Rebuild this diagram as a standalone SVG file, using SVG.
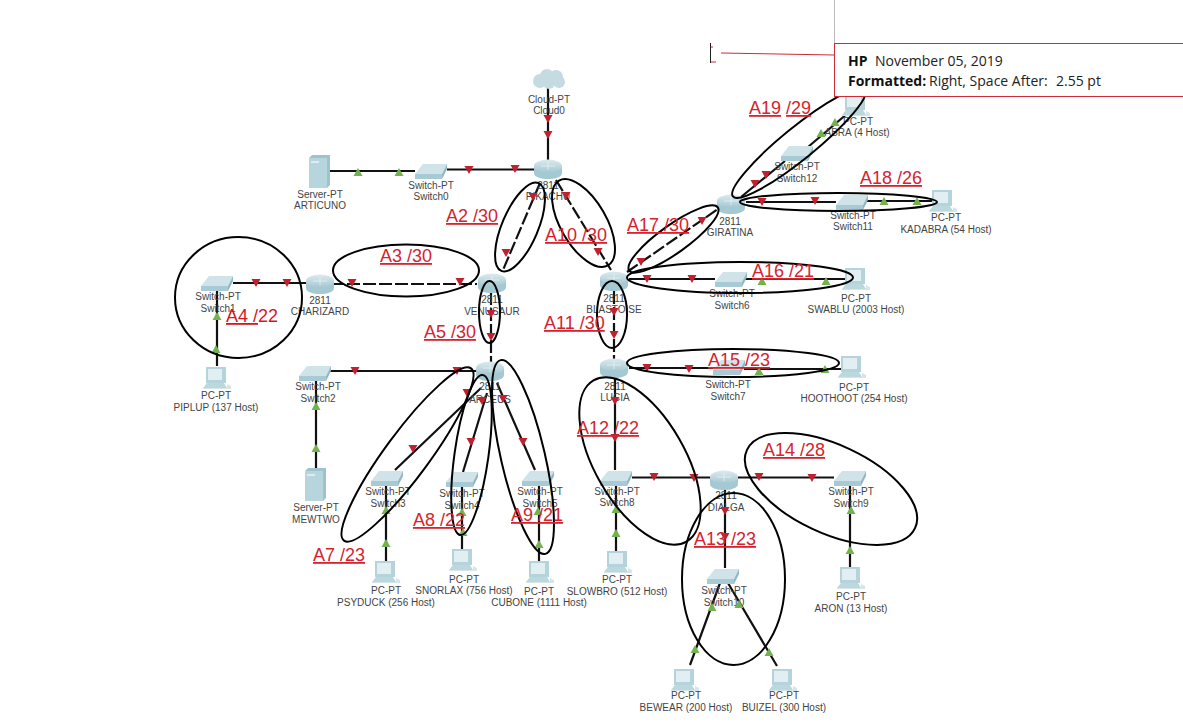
<svg xmlns="http://www.w3.org/2000/svg" width="1183" height="722" viewBox="0 0 1183 722">
<style>
.n{font:10px "Liberation Sans",Arial,sans-serif;fill:#444;text-anchor:middle}
.l{fill:none;stroke:#111;stroke-width:2.2}
.d{stroke-dasharray:13 3}
.e{fill:none;stroke:#000;stroke-width:2}
.a{font:18px "Liberation Sans",Arial,sans-serif;fill:#d5232f;text-decoration:underline}
.c{font:14px "Open Sans","Noto Sans",sans-serif;fill:#222}
.b{font-weight:700;fill:#111}
</style>
<defs>
<linearGradient id="g" x1="0" y1="0" x2="0" y2="1"><stop offset="0" stop-color="#dcebee"/><stop offset="1" stop-color="#a5c8d2"/></linearGradient>
<g id="router"><path d="M-14-3V4C-14 8-7 10 0 10S14 8 14 4V-3Z" fill="#a5c9d3"/><ellipse cy="-3" rx="14" ry="6.500" fill="url(#g)"/><path d="M-7-3H7M0-7V1" stroke="#eef5f7" stroke-width=".7"/></g>
<g id="switch"><path d="M-16 3H11L16-7H-8Z" fill="#cfe3e8"/><path d="M-16 3H11V8H-16Z" fill="#a7cad4"/><path d="M11 3L16-7V-2L11 8Z" fill="#8db8c4"/></g>
<g id="pc"><rect x="-10" y="-11" width="20" height="16" fill="#b5d3db"/><rect x="-8" y="-9" width="14" height="11" fill="#e2eff2"/><path d="M-9 5H8L11 10H-13Z" fill="#bcd8df"/><path d="M11 6L15 8V11H-13V10H11Z" fill="#d5e6ea"/></g>
<g id="server"><path d="M-11-14L-8-17H10V13L7 16H-11Z" fill="#9dc3ce"/><path d="M-11-14H7V16H-11Z" fill="#b7d5dd"/><rect x="-9" y="-11" width="8" height="2" fill="#dcecf0"/></g>
<g id="cloud" fill="#c3dbe1"><circle cx="-9" cy="2" r="7"/><circle cx="-2" cy="-3" r="7"/><circle cx="7" cy="-2" r="7"/><circle cx="10" cy="3" r="6"/><circle cy="4" r="6"/></g>
<path id="r" d="M-4.500-4H4.500L0 4Z" fill="#c1212f"/>
<path id="p" d="M-4.500 4H4.500L0-4Z" fill="#72b350"/>
</defs>
<g id="connectors">
<path class="l" d="M548 88V160M330 171H415M447 169.500H534M233 283H306M217 290V366M330 371H478M316 468V380M395 470L481 388M463 472L487 393M535 470L497 383M386 486V562M462 486V550M539 486V561M616 486V552M632 477.500H710M738 477.500H834M850 486V568M725 490V568M720 583L690 665M728 583L777 666M629 279H715M745 279H846M629 368H713M744 369H842M746 202H836M867 201H932M741 197L785 161M808 147L848 113"/>
<path class="l d" d="M331 284H477M540 183L503 270M556 180L611 270M627 272L718 209M491 292V362M614 291V360"/>
<path class="l" d="M615 378V470"/>
</g>
<g id="cloud0"><use href="#cloud" x="549" y="79"/><text class="n" x="549" y="103">Cloud-PT</text><text class="n" x="549" y="114">Cloud0</text></g>
<g id="pikachu"><use href="#router" x="548" y="169"/><text class="n" x="548" y="189">2811</text><text class="n" x="548" y="200">PIKACHU</text></g>
<g id="articuno"><use href="#server" x="320" y="172"/><text class="n" x="320" y="198">Server-PT</text><text class="n" x="320" y="209">ARTICUNO</text></g>
<g id="switch0"><use href="#switch" x="431" y="171"/><text class="n" x="431" y="189">Switch-PT</text><text class="n" x="431" y="200">Switch0</text></g>
<g id="switch1"><use href="#switch" x="217" y="283"/><text class="n" x="218" y="300">Switch-PT</text><text class="n" x="218" y="312">Switch1</text></g>
<g id="charizard"><use href="#router" x="320" y="284"/><text class="n" x="320" y="304">2811</text><text class="n" x="320" y="315">CHARIZARD</text></g>
<g id="piplup"><use href="#pc" x="216" y="378"/><text class="n" x="216" y="399">PC-PT</text><text class="n" x="216" y="411">PIPLUP (137 Host)</text></g>
<g id="venusaur"><use href="#router" x="492" y="283"/><text class="n" x="492" y="303">2811</text><text class="n" x="492" y="315">VENUSAUR</text></g>
<g id="blastoise"><use href="#router" x="614" y="281"/><text class="n" x="614" y="302">2811</text><text class="n" x="614" y="313">BLASTOISE</text></g>
<g id="arceus"><use href="#router" x="490" y="371"/><text class="n" x="490" y="390">2811</text><text class="n" x="490" y="403">ARCEUS</text></g>
<g id="lucia"><use href="#router" x="614" y="368"/><text class="n" x="615" y="390">2811</text><text class="n" x="615" y="401">LUCIA</text></g>
<g id="switch2"><use href="#switch" x="315" y="373"/><text class="n" x="318" y="390">Switch-PT</text><text class="n" x="318" y="402">Switch2</text></g>
<g id="mewtwo"><use href="#server" x="316" y="485"/><text class="n" x="316" y="511">Server-PT</text><text class="n" x="316" y="523">MEWTWO</text></g>
<g id="switch3"><use href="#switch" x="387" y="478"/><text class="n" x="388" y="495">Switch-PT</text><text class="n" x="388" y="507">Switch3</text></g>
<g id="switch4"><use href="#switch" x="462" y="479"/><text class="n" x="462" y="497">Switch-PT</text><text class="n" x="462" y="509">Switch4</text></g>
<g id="switch5"><use href="#switch" x="538" y="478"/><text class="n" x="540" y="495">Switch-PT</text><text class="n" x="540" y="507">Switch5</text></g>
<g id="psyduck"><use href="#pc" x="385" y="572"/><text class="n" x="386" y="594">PC-PT</text><text class="n" x="386" y="606">PSYDUCK (256 Host)</text></g>
<g id="snorlax"><use href="#pc" x="462" y="560"/><text class="n" x="464" y="583">PC-PT</text><text class="n" x="464" y="594">SNORLAX (756 Host)</text></g>
<g id="cubone"><use href="#pc" x="539" y="572"/><text class="n" x="539" y="595">PC-PT</text><text class="n" x="539" y="606">CUBONE (1111 Host)</text></g>
<g id="switch8"><use href="#switch" x="616" y="478"/><text class="n" x="617" y="495">Switch-PT</text><text class="n" x="617" y="506">Switch8</text></g>
<g id="slowbro"><use href="#pc" x="617" y="562"/><text class="n" x="617" y="583">PC-PT</text><text class="n" x="617" y="595">SLOWBRO (512 Host)</text></g>
<g id="dialga"><use href="#router" x="724" y="480"/><text class="n" x="726" y="499">2811</text><text class="n" x="726" y="511">DIALGA</text></g>
<g id="switch9"><use href="#switch" x="850" y="478"/><text class="n" x="851" y="495">Switch-PT</text><text class="n" x="851" y="507">Switch9</text></g>
<g id="aron"><use href="#pc" x="850" y="578"/><text class="n" x="851" y="600">PC-PT</text><text class="n" x="851" y="612">ARON (13 Host)</text></g>
<g id="switch10"><use href="#switch" x="723" y="576"/><text class="n" x="724" y="594">Switch-PT</text><text class="n" x="724" y="606">Switch10</text></g>
<g id="bewear"><use href="#pc" x="684" y="680"/><text class="n" x="686" y="699">PC-PT</text><text class="n" x="686" y="711">BEWEAR (200 Host)</text></g>
<g id="buizel"><use href="#pc" x="782" y="680"/><text class="n" x="784" y="699">PC-PT</text><text class="n" x="784" y="711">BUIZEL (300 Host)</text></g>
<g id="switch6"><use href="#switch" x="731" y="279"/><text class="n" x="732" y="297">Switch-PT</text><text class="n" x="732" y="309">Switch6</text></g>
<g id="swablu"><use href="#pc" x="855" y="279"/><text class="n" x="856" y="302">PC-PT</text><text class="n" x="856" y="313">SWABLU (2003 Host)</text></g>
<g id="switch7"><use href="#switch" x="729" y="367"/><text class="n" x="728" y="388">Switch-PT</text><text class="n" x="728" y="400">Switch7</text></g>
<g id="hoothoot"><use href="#pc" x="851" y="367"/><text class="n" x="854" y="391">PC-PT</text><text class="n" x="854" y="402">HOOTHOOT (254 Host)</text></g>
<g id="switch11"><use href="#switch" x="852" y="202"/><text class="n" x="853" y="219">Switch-PT</text><text class="n" x="853" y="230">Switch11</text></g>
<g id="kadabra"><use href="#pc" x="942" y="201"/><text class="n" x="946" y="221">PC-PT</text><text class="n" x="946" y="233">KADABRA (54 Host)</text></g>
<g id="switch12"><use href="#switch" x="797" y="153"/><text class="n" x="797" y="170">Switch-PT</text><text class="n" x="797" y="182">Switch12</text></g>
<g id="abra"><use href="#pc" x="855" y="105"/><text class="n" x="858" y="125">PC-PT</text><text class="n" x="857" y="136">ABRA (4 Host)</text></g>
<g id="giratina"><use href="#router" x="731" y="204"/><text class="n" x="730" y="225">2811</text><text class="n" x="730" y="236">GIRATINA</text></g>
<g id="link-markers">
<use href="#r" x="548" y="119"/><use href="#r" x="548" y="135"/><use href="#p" x="358" y="172"/><use href="#p" x="399" y="172"/><use href="#r" x="469" y="170"/><use href="#r" x="515" y="169"/><use href="#r" x="533" y="197"/><use href="#r" x="566" y="196"/><use href="#r" x="506" y="253"/><use href="#r" x="598" y="252"/><use href="#r" x="256" y="283"/><use href="#r" x="287" y="283"/><use href="#r" x="352" y="283"/><use href="#r" x="460" y="282"/><use href="#r" x="491" y="314"/><use href="#r" x="491" y="337"/><use href="#r" x="614" y="312"/><use href="#r" x="614" y="335"/><use href="#p" x="217" y="316"/><use href="#p" x="216" y="349"/><use href="#r" x="355" y="371"/><use href="#r" x="457" y="371"/><use href="#p" x="316" y="406"/><use href="#p" x="316" y="448"/><use href="#r" x="467" y="393"/><use href="#r" x="413" y="449"/><use href="#r" x="482" y="401"/><use href="#r" x="471" y="442"/><use href="#r" x="503" y="399"/><use href="#r" x="523" y="442"/><use href="#p" x="386" y="510"/><use href="#p" x="386" y="543"/><use href="#p" x="462" y="512"/><use href="#p" x="463" y="532"/><use href="#p" x="538" y="511"/><use href="#p" x="539" y="544"/><use href="#r" x="647" y="279"/><use href="#r" x="692" y="279"/><use href="#p" x="762" y="281"/><use href="#p" x="826" y="281"/><use href="#r" x="647" y="368"/><use href="#r" x="689" y="369"/><use href="#p" x="759" y="371"/><use href="#p" x="825" y="369"/><use href="#r" x="641" y="262"/><use href="#r" x="702" y="221"/><use href="#r" x="615" y="401"/><use href="#r" x="615" y="438"/><use href="#r" x="654" y="477"/><use href="#r" x="694" y="478"/><use href="#r" x="759" y="477"/><use href="#r" x="812" y="478"/><use href="#r" x="725" y="511"/><use href="#r" x="725" y="537"/><use href="#p" x="616" y="509"/><use href="#p" x="616" y="533"/><use href="#p" x="851" y="510"/><use href="#p" x="850" y="550"/><use href="#p" x="712" y="607"/><use href="#p" x="695" y="649"/><use href="#p" x="739" y="604"/><use href="#p" x="769" y="652"/><use href="#r" x="755" y="184"/><use href="#r" x="766" y="175"/><use href="#p" x="821" y="133"/><use href="#p" x="835" y="122"/><use href="#r" x="762" y="202"/><use href="#r" x="815" y="201"/><use href="#p" x="884" y="201"/><use href="#p" x="917" y="201"/>
</g>
<g id="subnet-ellipses">
<ellipse class="e" cx="238.500" cy="297.500" rx="63.500" ry="60.500"/>
<ellipse class="e" cx="406" cy="270.500" rx="73" ry="26"/>
<ellipse class="e" cx="520" cy="227" rx="47.700" ry="18" transform="rotate(-67 520 227)"/>
<ellipse class="e" cx="583.500" cy="223" rx="49" ry="22.800" transform="rotate(60 583.500 223)"/>
<ellipse class="e" cx="489.500" cy="312" rx="10.500" ry="31"/>
<ellipse class="e" cx="612" cy="314.500" rx="15" ry="33.500"/>
<ellipse class="e" cx="740" cy="277.500" rx="113" ry="15.500"/>
<ellipse class="e" cx="733" cy="363" rx="106" ry="14"/>
<ellipse class="e" cx="673.500" cy="239" rx="54.400" ry="14" transform="rotate(-35.500 673.500 239)"/>
<ellipse class="e" cx="799" cy="143" rx="85" ry="16" transform="rotate(-39 799 143)"/>
<ellipse class="e" cx="838.500" cy="202" rx="98.500" ry="9"/>
<ellipse class="e" cx="640" cy="461" rx="93" ry="45" transform="rotate(60 640 461)"/>
<ellipse class="e" cx="733.500" cy="579" rx="51.500" ry="86"/>
<ellipse class="e" cx="831" cy="489" rx="92.700" ry="44" transform="rotate(25 831 489)"/>
<ellipse class="e" cx="407.500" cy="454.500" rx="107" ry="22" transform="rotate(-53.600 407.500 454.500)"/>
<ellipse class="e" cx="471.500" cy="455" rx="80.800" ry="17" transform="rotate(-82 471.500 455)"/>
<ellipse class="e" cx="523" cy="457" rx="99.400" ry="22" transform="rotate(77 523 457)"/>
</g>
<g id="subnet-labels">
<text class="a" x="446" y="222">A2 /30</text>
<text class="a" x="380" y="262">A3 /30</text>
<text x="226" y="322" style="font:18px 'Liberation Sans',Arial,sans-serif;fill:#d5171f"><tspan text-decoration="underline">A4 /</tspan>22</text>
<text class="a" x="424" y="338">A5 /30</text>
<text class="a" x="313" y="561">A7 /23</text>
<text class="a" x="413" y="526">A8 /22</text>
<text class="a" x="511" y="521">A9 /21</text>
<text class="a" x="545" y="241">A10 /30</text>
<text class="a" x="544" y="329">A11 /30</text>
<text class="a" x="577" y="434">A12 /22</text>
<text class="a" x="694" y="545">A13 /23</text>
<text class="a" x="763" y="456">A14 /28</text>
<text class="a" x="708" y="366">A15 /23</text>
<text class="a" x="752" y="277">A16 /21</text>
<text class="a" x="627" y="231">A17 /30</text>
<text class="a" x="860" y="184">A18 /26</text>
<text x="749" y="114" style="font:18px 'Liberation Sans',Arial,sans-serif;fill:#d5232f"><tspan text-decoration="underline">A19</tspan> <tspan text-decoration="underline">/29</tspan></text>
</g>
<g id="comment">
<rect x="834.500" y="43.500" width="350" height="53" fill="#fff" stroke="#cf2a36"/>
<path d="M834.500 0V43" stroke="#bbb" fill="none"/>
<path d="M721 53L834 55" stroke="#cf2a36" fill="none"/>
<path d="M710.500 43V63" stroke="#222" fill="none"/>
<path d="M711 47H713M711 62H716" stroke="#cf2a36" fill="none"/>
<text class="c" x="848" y="66"><tspan class="b">HP</tspan><tspan x="875">November 05, 2019</tspan></text>
<text class="c" x="848" y="86"><tspan class="b">Formatted:</tspan><tspan x="929">Right, Space After:</tspan><tspan x="1056">2.55 pt</tspan></text>
</g>
</svg>
